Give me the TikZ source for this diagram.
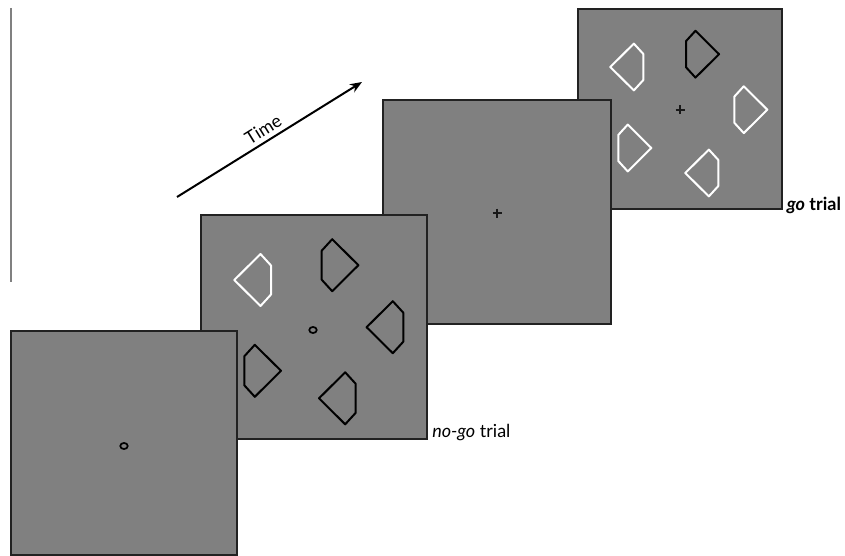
\documentclass[tikz,border=0pt]{standalone}
\usepackage{fontspec}
\setmainfont{Lato}
\usetikzlibrary{arrows.meta,shapes.geometric}
\definecolor{scr}{HTML}{808080}
\definecolor{edge}{HTML}{222222}
\tikzset{
  panel/.style={fill=scr, draw=edge, line width=1.3pt},
  lbl/.style={font=\fontsize{13.5}{15}\selectfont, anchor=base west, inner sep=0pt},
  pics/stim/.style={code={
    \draw[line width=1.5pt, line join=round, #1] (0,-14.5) -- (10.5,-26) -- (36.7,0) -- (10.5,26) -- (0,14.5) -- cycle;}},
  fixring/.style={draw=black, line width=1.3pt, ellipse, inner sep=0pt, minimum width=5.6pt, minimum height=4.6pt},
  pics/fixcross/.style={code={
    \draw[line width=0.9pt, black!90] (-4.5,0) -- (4.5,0) (0,-4.5) -- (0,4.5);}}
}
\begin{document}
\begin{tikzpicture}[x=0.75pt,y=-0.75pt]
\useasboundingbox (0,0) rectangle (845,556);
% left grey line
\coordinate (vl1) at (10.7,8);
\coordinate (vl2) at (10.7,282);
\draw[scr, line width=1.5pt] (vl1) -- (vl2);
% time arrow
\coordinate (t1) at (177,197);
\coordinate (t2) at (362,82);
\draw[line width=1.5pt, -{Stealth[length=9pt,width=7pt]}] (t1) -- (t2)
  node[pos=0.5, above=0pt, sloped, font=\fontsize{13.5}{15}\selectfont] (time) {Time};
% panel 4 (go)
\path[panel] (578,9) rectangle (782,209);
\pic at (680,110) {fixcross};
\pic[scale=0.9, xscale=-1] at (643.3,67) {stim={white}};
\pic[scale=0.9] at (686,54.2) {stim={black}};
\pic[scale=0.9] at (734.3,109.7) {stim={white}};
\pic[scale=0.9] at (618.3,148) {stim={white}};
\pic[scale=0.9, xscale=-1] at (718.3,173) {stim={white}};
\node[lbl] (go) at (786.5,210) {\textbf{\textit{go} trial}};
% panel 3 (fixation cross)
\path[panel] (383,100) rectangle (611,324);
\pic at (497,213) {fixcross};
% panel 2 (no-go)
\path[panel] (201,215) rectangle (427,439);
\node[fixring] (r2) at (313,330) {};
\pic[xscale=-1] at (271,280) {stim={white}};
\pic at (321.7,265.2) {stim={black}};
\pic[xscale=-1] at (403.3,327.2) {stim={black}};
\pic at (244.3,370.8) {stim={black}};
\pic[xscale=-1] at (355.7,398.3) {stim={black}};
\node[lbl] (nogo) at (432,437.5) {\textit{no-go} trial};
% panel 1
\path[panel] (11,331) rectangle (237,555);
\node[fixring] (r1) at (124,446) {};
\end{tikzpicture}
\end{document}
